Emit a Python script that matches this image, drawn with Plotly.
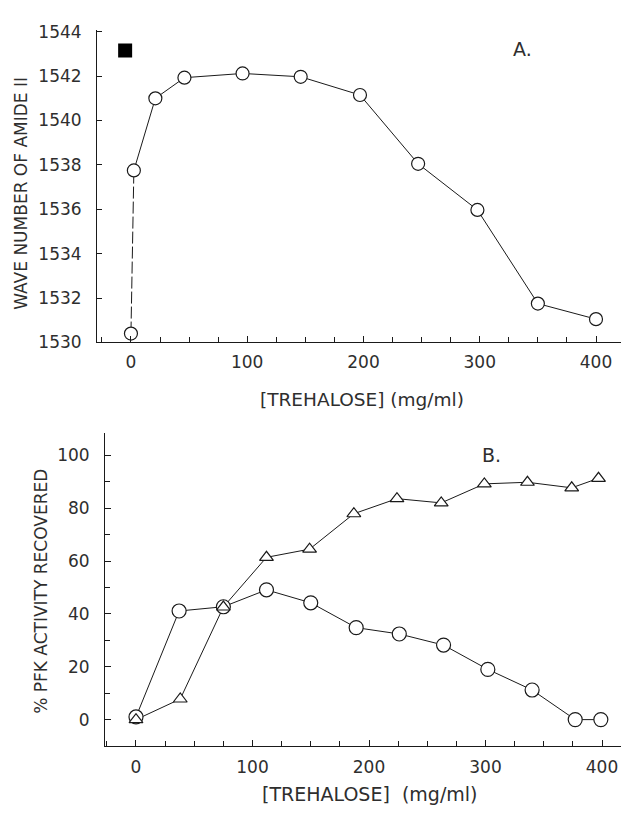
import plotly.graph_objects as go

# Panel A: wave number of amide II vs trehalose
a_x = [0, 2.5, 21, 46, 96, 146, 197, 247, 298, 350, 400]
a_y = [1530.4, 1537.75, 1541.0, 1541.93, 1542.12, 1541.97, 1541.15, 1538.05, 1535.97, 1531.75, 1531.05]
a_ref_x = [-5]
a_ref_y = [1543.15]

# Panel B: % PFK activity recovered
b_circ_x = [0, 37, 75, 112, 150, 189, 226, 264, 302, 340, 377, 399]
b_circ_y = [1.0, 41.1, 42.7, 49.1, 44.2, 34.8, 32.4, 28.2, 19.0, 11.2, 0.0, 0.0]
b_tri_x = [0, 38, 75, 112, 149, 187, 224, 262, 299, 336, 374, 397]
b_tri_y = [0.0, 7.8, 42.6, 61.4, 64.5, 77.9, 83.6, 82.0, 89.2, 89.8, 87.7, 91.3]

a_yticks = [1530, 1532, 1534, 1536, 1538, 1540, 1542, 1544]
x_ticks = [0, 100, 200, 300, 400]
b_yticks = [0, 20, 40, 60, 80, 100]

INK = "#1a1a1a"
TXT = "#2e2e2e"
FONT = "DejaVu Sans"

fig = go.Figure()

# Panel A
fig.add_trace(go.Scatter(x=a_x[:2], y=a_y[:2], mode="lines",
                         line=dict(color=INK, width=1, dash="12px,3px"),
                         xaxis="x", yaxis="y", showlegend=False))
fig.add_trace(go.Scatter(x=a_x[1:], y=a_y[1:], mode="lines",
                         line=dict(color=INK, width=1),
                         xaxis="x", yaxis="y", showlegend=False))
fig.add_trace(go.Scatter(x=a_x, y=a_y, mode="markers",
                         marker=dict(symbol="circle", size=13, color="white",
                                     line=dict(color=INK, width=1.2)),
                         xaxis="x", yaxis="y", showlegend=False))
fig.add_trace(go.Scatter(x=a_ref_x, y=a_ref_y, mode="markers",
                         marker=dict(symbol="square", size=14, color="black",
                                     line=dict(color="black", width=0)),
                         xaxis="x", yaxis="y", showlegend=False))

# Panel B: lines first, then markers on top
fig.add_trace(go.Scatter(x=b_circ_x, y=b_circ_y, mode="lines",
                         line=dict(color=INK, width=1),
                         xaxis="x2", yaxis="y2", showlegend=False))
fig.add_trace(go.Scatter(x=b_tri_x, y=b_tri_y, mode="lines",
                         line=dict(color=INK, width=1),
                         xaxis="x2", yaxis="y2", showlegend=False))
fig.add_trace(go.Scatter(x=b_circ_x, y=b_circ_y, mode="markers",
                         marker=dict(symbol="circle", size=14, color="white",
                                     line=dict(color=INK, width=1.2)),
                         xaxis="x2", yaxis="y2", showlegend=False))
fig.add_trace(go.Scatter(x=b_tri_x, y=b_tri_y, mode="markers",
                         marker=dict(symbol="triangle-up", size=12, color="white",
                                     line=dict(color=INK, width=1.2)),
                         xaxis="x2", yaxis="y2", showlegend=False))

H = 814.0
W = 621.0

axis_common = dict(showgrid=False, zeroline=False, showline=True, linecolor=INK,
                   linewidth=1, ticks="inside", tickcolor=INK, tickwidth=1,
                   tickfont=dict(family=FONT, size=17, color=TXT), mirror=False,
                   ticklabeloverflow="allow")

fig.update_layout(
    width=621, height=814,
    margin=dict(l=0, r=0, t=0, b=0),
    paper_bgcolor="white", plot_bgcolor="white",
    hovermode=False,
    xaxis=dict(**axis_common, domain=[97 / W, 1.0], range=[-29.2, 421.5],
               tickvals=x_ticks, ticklen=6, ticklabelstandoff=4,
               minor=dict(dtick=25, tick0=0, ticks="inside", ticklen=5,
                          tickcolor=INK, showgrid=False),
               anchor="y"),
    yaxis=dict(**axis_common, domain=[(H - 342) / H, (H - 22) / H],
               range=[1530, 1544.1], tickvals=a_yticks, ticklen=5,
               ticklabelstandoff=11, anchor="x"),
    xaxis2=dict(**axis_common, domain=[105 / W, 1.0], range=[-26.6, 416.3],
                tickvals=x_ticks, ticklen=6, ticklabelstandoff=5,
                minor=dict(dtick=25, tick0=0, ticks="inside", ticklen=5,
                           tickcolor=INK, showgrid=False),
                anchor="y2"),
    yaxis2=dict(**axis_common, domain=[(H - 755) / H, (H - 435) / H],
                range=[-10.1, 108.3], tickvals=b_yticks, ticklen=6,
                ticklabelstandoff=11,
                minor=dict(dtick=10, tick0=0, ticks="inside", ticklen=5,
                           tickcolor=INK, showgrid=False),
                anchor="x2"),
)

def ann(text, x, y, size, angle=0):
    fig.add_annotation(text=text, x=x / W, y=(H - y) / H, xref="paper", yref="paper",
                       showarrow=False, textangle=angle,
                       font=dict(family=FONT, size=size, color=TXT),
                       xanchor="center", yanchor="middle")

ann("A.", 522, 42, 19)
ann("B.", 491, 457, 19)
ann("[TREHALOSE] (mg/ml)", 362, 400, 18.5)
ann("[TREHALOSE]\u00a0\u00a0(mg/ml)", 370, 804, 19)
ann("WAVE NUMBER OF AMIDE II", 21, 190, 17, -90)
ann("% PFK ACTIVITY RECOVERED", 41, 597, 17, -90)

fig.write_html("out.html", config={"displayModeBar": False},
               post_script="document.body.style.margin='0';")
